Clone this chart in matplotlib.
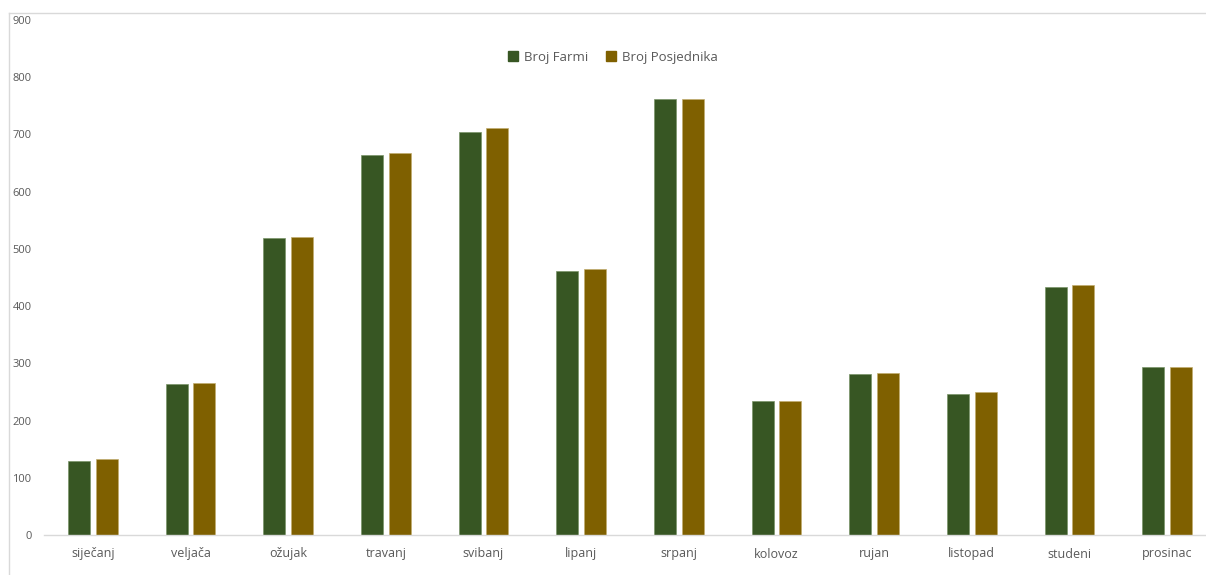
import matplotlib
matplotlib.use("Agg")
import matplotlib.pyplot as plt
import numpy as np
from matplotlib.lines import Line2D

months = ["siječanj", "veljača", "ožujak", "travanj", "svibanj", "lipanj",
          "srpanj", "kolovoz", "rujan", "listopad", "studeni", "prosinac"]
broj_farmi = [129, 264, 519, 664, 705, 462, 762, 234, 281, 247, 434, 294]
broj_posjednika = [133, 266, 521, 668, 712, 465, 762, 234, 283, 250, 437, 294]
series_names = ["Broj Farmi", "Broj Posjednika"]
colors = ["#375623", "#7F6000"]
yticks = list(range(0, 1000, 100))

plt.rcParams['font.family'] = ['Open Sans', 'DejaVu Sans']

W, H = 1206, 575
fig = plt.figure(figsize=(W / 100, H / 100), dpi=100)

# figure frame lines (left and top)
fig.add_artist(Line2D([9 / W, 9 / W], [0, 1 - 13 / H], color="#d9d9d9", lw=1.0))
fig.add_artist(Line2D([9 / W, 1], [1 - 13 / H, 1 - 13 / H], color="#d9d9d9", lw=1.0))

left, right = 44, 1216
bottom, top = 535, 20
ax = fig.add_axes([left / W, 1 - bottom / H, (right - left) / W, (bottom - top) / H])

x = np.arange(len(months))
w = 0.225
off = 0.143
ax.bar(x - off, broj_farmi, w, color=colors[0], label=series_names[0],
       edgecolor="#7a9468", linewidth=0.5)
ax.bar(x + off, broj_posjednika, w, color=colors[1], label=series_names[1],
       edgecolor="#c2ad70", linewidth=0.5)

ax.set_xlim(-0.5, len(months) - 0.5)
ax.set_ylim(0, 900)
ax.set_yticks(yticks)
ax.set_xticks(x)
ax.set_xticklabels(months)
for s in ["top", "right", "left"]:
    ax.spines[s].set_visible(False)
ax.spines["bottom"].set_color("#d9d9d9")
ax.spines["bottom"].set_linewidth(1.0)
ax.tick_params(axis="both", length=0, colors="#595959")
ax.tick_params(axis="x", pad=9, labelsize=9)
ax.tick_params(axis="y", pad=9, labelsize=8)

handles = [plt.Rectangle((0, 0), 1, 1, color=c) for c in colors]
fig.legend(handles, series_names, loc="center", bbox_to_anchor=(613 / W, 1 - 57 / H),
           ncol=2, frameon=False, fontsize=9.5, labelcolor="#595959",
           handlelength=0.75, handleheight=0.75, handletextpad=0.5, columnspacing=1.3)

fig.savefig("out.png", dpi=100)
